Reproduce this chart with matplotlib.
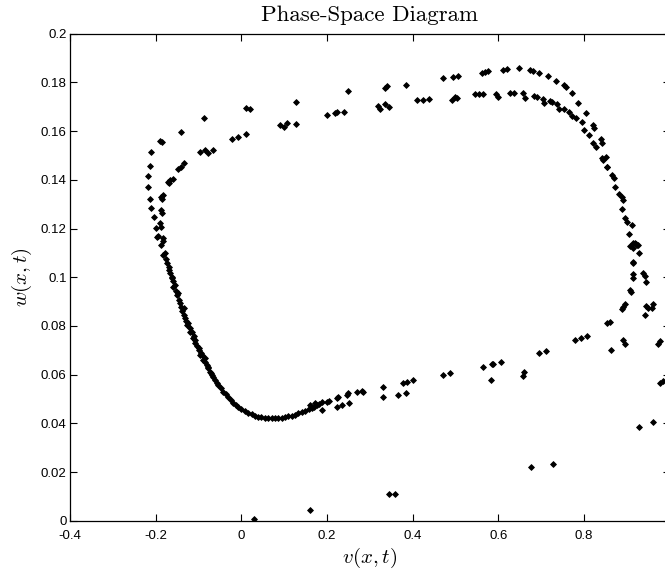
import matplotlib
matplotlib.use("Agg")
import matplotlib.pyplot as plt

# outer upper branch of the loop (left side, top row, right descent)
outer_v = [0.011, 0.019, -0.0875, -0.141, -0.191, -0.1855, -0.210, -0.213, -0.2175, -0.2175,
           -0.213, -0.2105, -0.205, -0.1995, -0.1935, -0.182,
           0.128, 0.250, 0.3356, 0.341, 0.3846, 0.470, 0.4936, 0.5067, 0.561, 0.569, 0.5767,
           0.6117, 0.6196, 0.649, 0.674, 0.680, 0.6957, 0.7167, 0.7347, 0.7533, 0.758, 0.7713,
           0.7867, 0.8047, 0.8217, 0.8233, 0.839, 0.842, 0.8513, 0.845, 0.853]
outer_w = [0.1694, 0.1690, 0.1653, 0.1598, 0.1561, 0.1554, 0.1513, 0.1457, 0.1414, 0.1372,
           0.1322, 0.1285, 0.1247, 0.1201, 0.1169, 0.1160,
           0.1718, 0.1766, 0.1778, 0.1785, 0.1789, 0.1817, 0.1821, 0.1826, 0.1840, 0.1844, 0.1847,
           0.1851, 0.1855, 0.1858, 0.1851, 0.1848, 0.1840, 0.1826, 0.1807, 0.1789, 0.1780, 0.1755,
           0.1717, 0.1673, 0.1625, 0.1612, 0.1566, 0.1552, 0.1495, 0.1481, 0.1451]

# inner upper branch
inner_v = [-0.022, -0.0068, 0.0105, -0.096, -0.0845, -0.079, -0.0665, -0.1468, -0.141, -0.135,
           -0.1715, -0.166, -0.160, -0.1685, -0.1855, -0.183, -0.187, -0.188, -0.1855, -0.1895,
           -0.187, 0.0905, 0.1006, 0.1062, 0.128, 0.1995, 0.219, 0.2229, 0.240, 0.320, 0.324,
           0.3356, 0.3456, 0.4096, 0.4236, 0.439, 0.491, 0.499, 0.503, 0.5456, 0.5557, 0.565,
           0.5946, 0.600, 0.6273, 0.6366, 0.657, 0.6623, 0.6833, 0.6896, 0.7036, 0.7067, 0.7207,
           0.7246, 0.7377, 0.7424, 0.7533, 0.7657, 0.7713, 0.7813, 0.7946, 0.800, 0.8117, 0.8217,
           0.828, 0.842, 0.853, 0.8647, 0.870, 0.8723, 0.8824, 0.888, 0.8903, 0.8887, 0.8964,
           0.901, 0.9113, 0.9057, 0.9137, 0.919, 0.923, 0.9073, 0.915, 0.9214, 0.9267, 0.9277,
           0.9143, 0.9143, 0.9143, 0.9137, 0.9384, 0.9424, 0.9447, 0.909, 0.9073]
inner_w = [0.1568, 0.1577, 0.1588, 0.1513, 0.1522, 0.1509, 0.1522, 0.1443, 0.1454, 0.1468,
           0.1390, 0.1399, 0.1402, 0.1386, 0.1321, 0.1338, 0.1331, 0.1276, 0.1265, 0.1221,
           0.1207, 0.1625, 0.1616, 0.1634, 0.1629, 0.1666, 0.1673, 0.1677, 0.1680, 0.1704, 0.1691,
           0.1710, 0.1699, 0.1728, 0.1728, 0.1733, 0.1728, 0.1741, 0.1735, 0.1752, 0.1752, 0.1752,
           0.1751, 0.1741, 0.1758, 0.1755, 0.1755, 0.1737, 0.1745, 0.1741, 0.1731, 0.1717, 0.1725,
           0.1721, 0.1711, 0.1690, 0.1690, 0.1680, 0.1663, 0.1653, 0.1639, 0.1604, 0.1584, 0.1550,
           0.1536, 0.1488, 0.1454, 0.1420, 0.1406, 0.1369, 0.1342, 0.1331, 0.1317, 0.1279, 0.1242,
           0.1228, 0.1214, 0.1176, 0.1139, 0.1142, 0.1132, 0.1128, 0.1119, 0.1136, 0.1132, 0.1101,
           0.1064, 0.1057, 0.1012, 0.0995, 0.1016, 0.1005, 0.0979, 0.0940, 0.0947]

# dense lower-left curve
curve_v = [-0.197, -0.188, -0.182, -0.182, -0.178, -0.174, -0.168, -0.166, -0.162, -0.162,
           -0.1585, -0.1545, -0.1505, -0.1468, -0.1445, -0.141, -0.135, -0.135, -0.131, -0.1258,
           -0.1235, -0.1195, -0.1155, -0.1132, -0.1078, -0.1078, -0.100, -0.100, -0.0962, -0.0922,
           -0.0885, -0.0845, -0.0805, -0.0768, -0.0728, -0.0688, -0.0651, -0.0611, -0.0534, -0.0418,
           -0.0301, -0.0184, -0.0068, 0.0089, 0.0245, 0.0399, 0.0555, 0.0712, 0.0866, 0.1022,
           0.1179, 0.1333, 0.1489, 0.1645, 0.1762,
           -0.176, -0.170, -0.160, -0.152, -0.143, -0.138, -0.129, -0.121, -0.111, -0.104,
           -0.094, -0.086, -0.078, -0.071, -0.057, -0.048, -0.036, -0.024, -0.012, 0.000,
           0.016, 0.032, 0.047, 0.063, 0.079, 0.094, 0.110, 0.126, 0.141, 0.157,
           0.170, 0.182, 0.160, 0.172]
curve_w = [0.1166, 0.1132, 0.1150, 0.1091, 0.1098, 0.1057, 0.1030, 0.1016, 0.1002, 0.0995,
           0.0961, 0.0968, 0.0927, 0.0934, 0.0906, 0.0879, 0.0872, 0.0845, 0.0831, 0.0804,
           0.0811, 0.0776, 0.0776, 0.0749, 0.0729, 0.0742, 0.0701, 0.0708, 0.0680, 0.0680,
           0.0660, 0.0653, 0.0639, 0.0626, 0.0612, 0.0598, 0.0591, 0.0578, 0.0557, 0.0530,
           0.0509, 0.0485, 0.0468, 0.0451, 0.0438, 0.0427, 0.0421, 0.0421, 0.0421, 0.0425,
           0.0431, 0.0441, 0.0452, 0.0462, 0.0475,
           0.1075, 0.1042, 0.0985, 0.0945, 0.0893, 0.0860, 0.0820, 0.0790, 0.0760, 0.0718,
           0.0690, 0.0668, 0.0632, 0.0605, 0.0567, 0.0543, 0.0520, 0.0497, 0.0476, 0.0460,
           0.0444, 0.0432, 0.0424, 0.0420, 0.0420, 0.0423, 0.0428, 0.0436, 0.0447, 0.0457,
           0.0468, 0.0480, 0.0475, 0.0484]

# lower return branch and right-hand scatter
lower_v = [0.188, 0.201, 0.188, 0.2056, 0.2229, 0.2266, 0.2229, 0.2345, 0.2462, 0.250, 0.2523,
           0.271, 0.2812, 0.285, 0.330, 0.3316, 0.3666, 0.3846, 0.377, 0.3876, 0.4016,
           0.470, 0.4873, 0.565, 0.5846, 0.5883, 0.6063, 0.5823, 0.657, 0.660, 0.6957, 0.712,
           0.7783, 0.7923, 0.8063, 0.853, 0.8607, 0.8917, 0.8957, 0.8637, 0.888, 0.8917, 0.8957,
           0.9447, 0.950, 0.958, 0.9603, 0.943, 0.9734, 0.9774, 0.9774, 0.985, 0.9277, 0.960]
lower_w = [0.0489, 0.0489, 0.0455, 0.0492, 0.0503, 0.0509, 0.0468, 0.0475, 0.0516, 0.0523, 0.0485,
           0.0527, 0.0533, 0.0530, 0.0550, 0.0507, 0.0516, 0.0526, 0.0567, 0.0571, 0.0578,
           0.0600, 0.0605, 0.0632, 0.0642, 0.0644, 0.0652, 0.0578, 0.0594, 0.0611, 0.0690, 0.0698,
           0.0742, 0.0749, 0.0759, 0.0811, 0.0817, 0.0742, 0.0726, 0.0701, 0.0868, 0.0879, 0.0890,
           0.0882, 0.0872, 0.0872, 0.0890, 0.0844, 0.0726, 0.0739, 0.0564, 0.0575, 0.0386, 0.0404]

# isolated points near the bottom
stray_v = [0.029, 0.1596, 0.3456, 0.3594, 0.6763, 0.7284]
stray_w = [0.0007, 0.0044, 0.011, 0.011, 0.0222, 0.0232]

xticks = [-0.4, -0.2, 0, 0.2, 0.4, 0.6, 0.8]
xtick_labels = ['-0.4', '-0.2', '0', '0.2', '0.4', '0.6', '0.8']
yticks = [0, 0.02, 0.04, 0.06, 0.08, 0.1, 0.12, 0.14, 0.16, 0.18, 0.2]
ytick_labels = ['0', '0.02', '0.04', '0.06', '0.08', '0.1', '0.12', '0.14', '0.16', '0.18', '0.2']

plt.rcParams['mathtext.fontset'] = 'cm'

fig = plt.figure(figsize=(6.65, 5.75), dpi=100)
ax = fig.add_axes([0.1053, 0.0944, 0.9018, 0.847])

for vs, ws in [(outer_v, outer_w), (inner_v, inner_w), (curve_v, curve_w),
               (lower_v, lower_w), (stray_v, stray_w)]:
    ax.plot(vs, ws, linestyle='none', marker='D', markersize=3.0,
            color='black', markeredgewidth=0.6)

ax.set_xlim(-0.4, 1.0)
ax.set_ylim(0, 0.2)
ax.set_xticks(xticks)
ax.set_xticklabels(xtick_labels)
ax.set_yticks(yticks)
ax.set_yticklabels(ytick_labels)
ax.tick_params(direction='in', length=5, width=0.8, top=True, right=True,
               labelsize=9.5)
ax.tick_params(axis='x', pad=6.5)
ax.tick_params(axis='y', pad=2.5)
for lab in ax.get_xticklabels() + ax.get_yticklabels():
    lab.set_fontfamily('Liberation Sans')
for sp in ax.spines.values():
    sp.set_linewidth(0.9)

ax.set_title('Phase-Space Diagram', fontfamily='cmr10', fontsize=16.5, pad=9)
ax.set_xlabel(r'$v(x,t)$', fontsize=15, labelpad=3)
ax.set_ylabel(r'$w(x,t)$', fontsize=15, labelpad=5)

fig.savefig('out.png', dpi=100)
